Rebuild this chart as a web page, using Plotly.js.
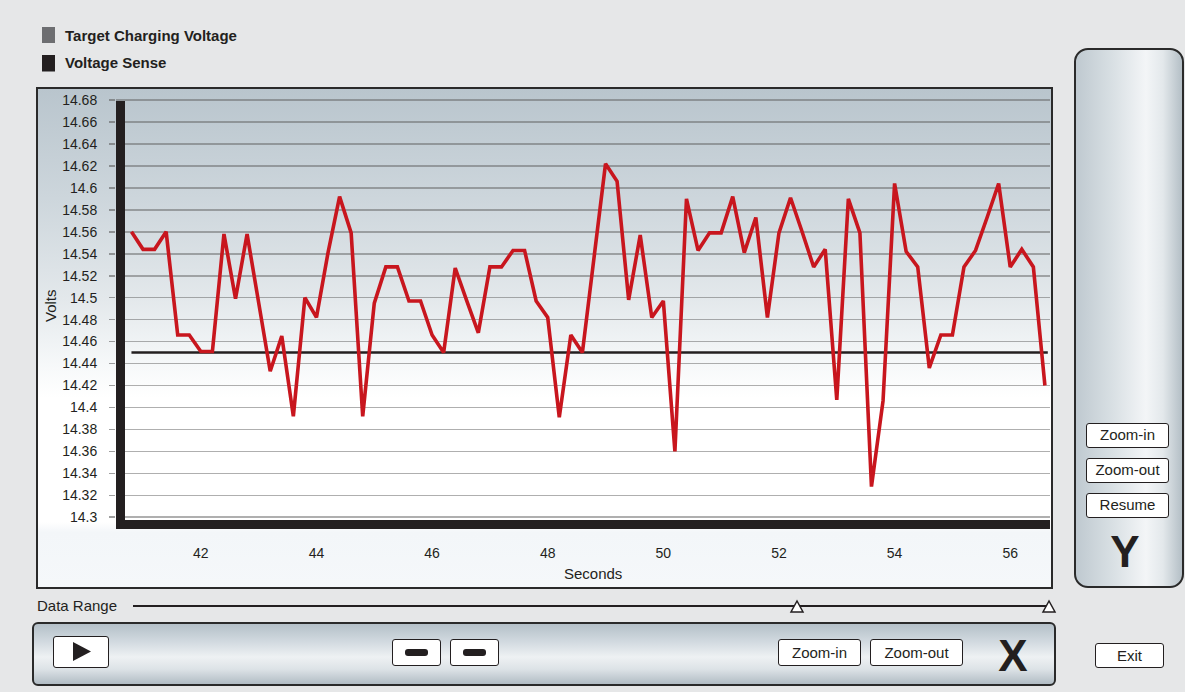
<!DOCTYPE html>
<html>
<head>
<meta charset="utf-8">
<script src="https://cdn.plot.ly/plotly-3.0.1.min.js"></script>
<style>
  html, body { margin:0; padding:0; width:1185px; height:692px; overflow:hidden; background:#e6e7e8;
    font-family:"Liberation Sans", Arial, Helvetica, sans-serif; color:#231f20; }
  #frame { position:absolute; left:36px; top:87px; width:1017px; height:502px; box-sizing:border-box;
    border:2px solid #2a2a2a;
    background:linear-gradient(to bottom,#b9c5cd 0%,#cdd6dc 22%,#e3e8eb 42%,#f7f9fa 56%,#ffffff 62%,#ffffff 87%,#f3f6f9 89%,#f5f8fa 100%); }
  #chart { position:absolute; left:0; top:0; width:1185px; height:692px; }
  .panel { position:absolute; box-sizing:border-box; border:2px solid #2a2a2a; }
  #ypanel { left:1074px; top:48px; width:110px; height:540px; border-radius:14px;
    background:linear-gradient(to right,#bfc9d0 0%,#d9e0e4 35%,#f3f5f7 66%,#e3e8eb 82%,#b4bfc6 100%); }
  #xpanel { left:32px; top:622px; width:1024px; height:64px; border-radius:6px;
    background:linear-gradient(to bottom,#b4c0c8 0%,#d2dae0 30%,#eef1f3 55%,#dde3e7 75%,#b1bcc4 100%); }
  .btn { position:absolute; box-sizing:border-box; background:#fff; border:1px solid #231f20; border-radius:3px;
    font-size:15px; line-height:22px; text-align:center; color:#231f20; white-space:nowrap; }
  .big { position:absolute; font-weight:bold; font-size:44px; line-height:44px; color:#231f20; text-align:center; }
  #range { position:absolute; left:37px; top:597px; font-size:15px; line-height:18px; }
  svg.ov { position:absolute; left:0; top:0; }
</style>
</head>
<body>
<div id="frame"></div>
<div class="panel" id="ypanel"></div>
<div class="panel" id="xpanel"></div>
<div id="chart"></div>

<div id="range">Data Range</div>
<svg class="ov" width="1185" height="692">
  <line x1="133" y1="606" x2="1050" y2="606" stroke="#231f20" stroke-width="2"/>
  <polygon points="797,601 791,612 803,612" fill="#fff" stroke="#231f20" stroke-width="1.5"/>
  <polygon points="1049,601 1043,612 1055,612" fill="#fff" stroke="#231f20" stroke-width="1.5"/>
</svg>

<div class="btn" style="left:1086px;top:423px;width:83px;height:25px;">Zoom-in</div>
<div class="btn" style="left:1086px;top:458px;width:83px;height:25px;">Zoom-out</div>
<div class="btn" style="left:1086px;top:493px;width:83px;height:25px;">Resume</div>
<div class="big" style="left:1100px;top:530px;width:50px;">Y</div>

<div class="btn" style="left:53px;top:636px;width:56px;height:32px;"></div>
<div class="btn" style="left:392px;top:639px;width:49px;height:27px;"></div>
<div class="btn" style="left:450px;top:639px;width:49px;height:27px;"></div>
<div class="btn" style="left:778px;top:639px;width:83px;height:27px;line-height:25px;">Zoom-in</div>
<div class="btn" style="left:870px;top:639px;width:93px;height:27px;line-height:25px;">Zoom-out</div>
<div class="big" style="left:988px;top:634px;width:50px;">X</div>
<div class="btn" style="left:1095px;top:643px;width:69px;height:25px;line-height:23px;">Exit</div>
<svg class="ov" width="1185" height="692">
  <polygon points="73,642 73,661 91,651.5" fill="#231f20"/>
  <rect x="405" y="649" width="23" height="7" rx="3" fill="#231f20"/>
  <rect x="463" y="649" width="23" height="7" rx="3" fill="#231f20"/>
</svg>

<script>
// ---- data ----
const seriesNames = ["Target Charging Voltage", "Voltage Sense"];
const seconds = [40.8,41.0,41.2,41.4,41.6,41.8,42.0,42.2,42.4,42.6,
                 42.8,43.0,43.2,43.4,43.6,43.8,44.0,44.2,44.4,44.6,
                 44.8,45.0,45.2,45.4,45.6,45.8,46.0,46.2,46.4,46.6,
                 46.8,47.0,47.2,47.4,47.6,47.8,48.0,48.2,48.4,48.6,
                 48.8,49.0,49.2,49.4,49.6,49.8,50.0,50.2,50.4,50.6,
                 50.8,51.0,51.2,51.4,51.6,51.8,52.0,52.2,52.4,52.6,
                 52.8,53.0,53.2,53.4,53.6,53.8,54.0,54.2,54.4,54.6,
                 54.8,55.0,55.2,55.4,55.6,55.8,56.0,56.2,56.4,56.6];
const voltageSense = [14.560,14.544,14.544,14.560,14.466,14.466,14.451,14.451,14.558,14.499,
                      14.558,14.497,14.433,14.465,14.392,14.500,14.482,14.541,14.592,14.559,
                      14.392,14.495,14.528,14.528,14.497,14.497,14.466,14.450,14.527,14.497,
                      14.468,14.528,14.528,14.543,14.543,14.497,14.482,14.391,14.466,14.450,
                      14.536,14.622,14.606,14.498,14.557,14.482,14.497,14.360,14.590,14.543,
                      14.559,14.559,14.592,14.541,14.573,14.482,14.559,14.591,14.560,14.528,
                      14.544,14.407,14.590,14.559,14.328,14.406,14.604,14.542,14.528,14.436,
                      14.466,14.466,14.528,14.543,14.573,14.604,14.528,14.544,14.528,14.420];
const targetSeconds = [40.8, 56.65];
const targetVoltage = [14.45, 14.45];
const xTickVals = [42,44,46,48,50,52,54,56];
const xTickText = ["42","44","46","48","50","52","54","56"];
const yTickVals = [14.3,14.32,14.34,14.36,14.38,14.4,14.42,14.44,14.46,14.48,
                   14.5,14.52,14.54,14.56,14.58,14.6,14.62,14.64,14.66,14.68];
const yTickText = ["14.3","14.32","14.34","14.36","14.38","14.4","14.42","14.44","14.46","14.48",
                   "14.5","14.52","14.54","14.56","14.58","14.6","14.62","14.64","14.66","14.68"];
const xTitle = "Seconds";
const yTitle = "Volts";

// ---- layout helpers (pixel -> paper) ----
const M = {l:116, r:135, t:90, b:163};
const W = 1185, H = 692;
const PW = W - M.l - M.r, PH = H - M.t - M.b;
const px = x => (x - M.l) / PW;
const py = y => (H - M.b - y) / PH;
const FONT = '"Liberation Sans", Arial, Helvetica, sans-serif';
const INK = '#231f20';

const traces = [
  { type:'scatter', mode:'lines', name:seriesNames[0], x:targetSeconds, y:targetVoltage,
    line:{color:INK, width:2.5}, hoverinfo:'skip' },
  { type:'scatter', mode:'lines', name:seriesNames[1], x:seconds, y:voltageSense,
    line:{color:'#c8161e', width:3.6} }
];

const layout = {
  width:W, height:H,
  margin:{l:M.l, r:M.r, t:M.t, b:M.b, pad:0},
  paper_bgcolor:'rgba(0,0,0,0)', plot_bgcolor:'rgba(0,0,0,0)',
  showlegend:false,
  font:{family:FONT, size:14, color:INK},
  xaxis:{range:[40.5326, 56.688], tickmode:'array', tickvals:xTickVals, ticktext:xTickText,
         showgrid:false, zeroline:false, showline:false, ticks:'', ticklabelstandoff:14, fixedrange:true},
  yaxis:{range:[14.28935, 14.6891], tickmode:'array', tickvals:yTickVals, ticktext:yTickText,
         showgrid:true, gridcolor:'rgba(95,95,95,0.5)', gridwidth:1.6,
         ticks:'outside', ticklen:6, tickwidth:1.6, tickcolor:'rgba(95,95,95,0.6)',
         ticklabelstandoff:9, zeroline:false, showline:false, fixedrange:true},
  shapes:[
    {type:'rect', xref:'paper', yref:'paper', xsizemode:'pixel', xanchor:0, x0:0, x1:9,
     y0:0, y1:py(101), fillcolor:INK, line:{width:0}},
    {type:'rect', xref:'paper', yref:'paper', ysizemode:'pixel', yanchor:0, y0:0, y1:9,
     x0:0, x1:1, fillcolor:INK, line:{width:0}},
    {type:'rect', xref:'paper', yref:'paper', x0:px(42), x1:px(55), y0:py(43), y1:py(27),
     fillcolor:'#6d6e71', line:{width:0}},
    {type:'rect', xref:'paper', yref:'paper', x0:px(42), x1:px(55), y0:py(71.5), y1:py(55),
     fillcolor:INK, line:{width:0}}
  ],
  annotations:[
    {xref:'paper', yref:'paper', x:px(63), y:py(35), xanchor:'left', yanchor:'middle', showarrow:false,
     text:'<b>'+seriesNames[0]+'</b>', font:{size:15, color:INK}},
    {xref:'paper', yref:'paper', x:px(63), y:py(63), xanchor:'left', yanchor:'middle', showarrow:false,
     text:'<b>'+seriesNames[1]+'</b>', font:{size:15, color:INK}},
    {xref:'paper', yref:'paper', x:px(50), y:py(306), xanchor:'center', yanchor:'middle', showarrow:false,
     textangle:-90, text:yTitle, font:{size:15, color:INK}},
    {xref:'paper', yref:'paper', x:px(593), y:py(573), xanchor:'center', yanchor:'middle', showarrow:false,
     text:xTitle, font:{size:15, color:INK}}
  ]
};

Plotly.newPlot('chart', traces, layout, {displayModeBar:false, staticPlot:true});
</script>
</body>
</html>
